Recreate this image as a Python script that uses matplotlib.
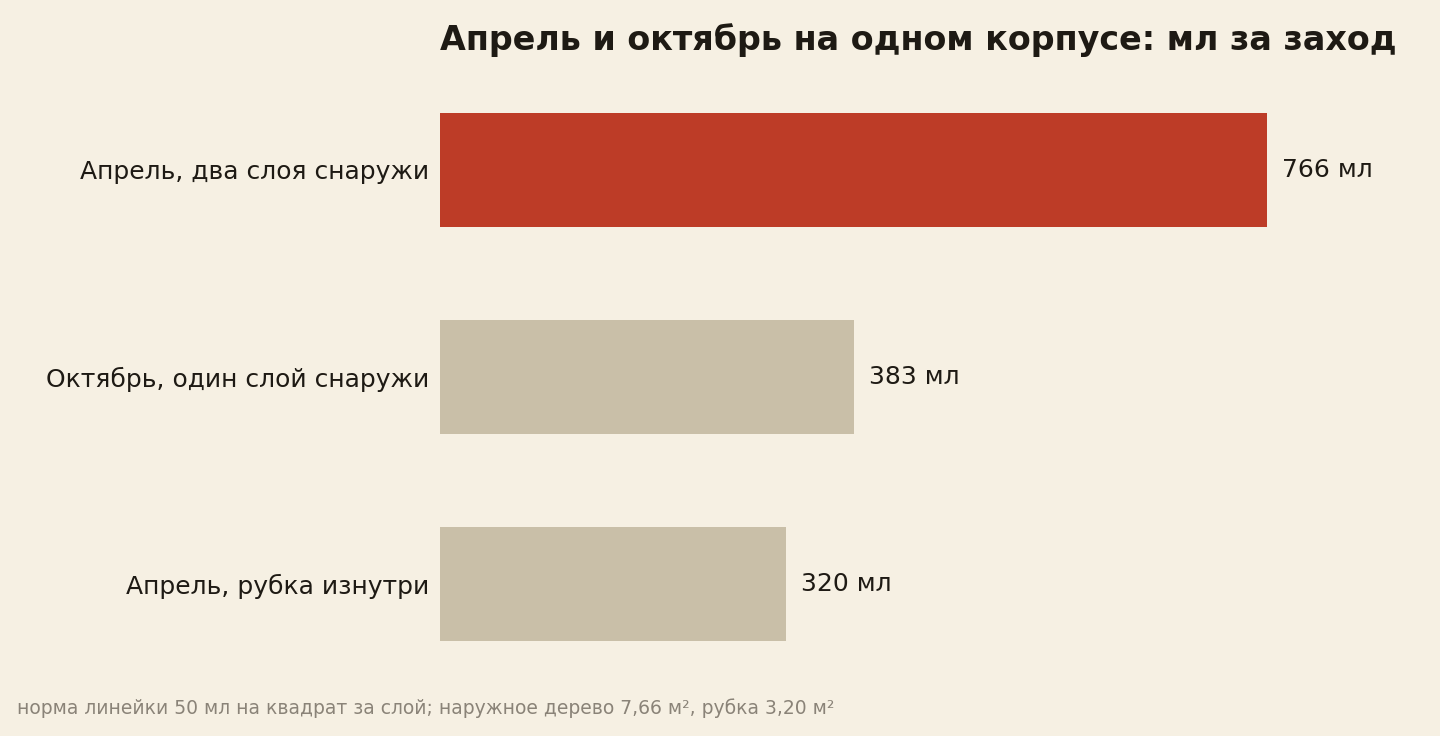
import matplotlib
matplotlib.use("Agg")
import matplotlib.pyplot as plt

categories = ["Апрель, два слоя снаружи", "Октябрь, один слой снаружи", "Апрель, рубка изнутри"]
values = [766, 383, 320]
colors = ["#BD3C27", "#C9BFA8", "#C9BFA8"]
bg = "#F6F0E3"
txt = "#1E1A14"

fig = plt.figure(figsize=(14.4, 7.36), dpi=100, facecolor=bg)
ax = fig.add_axes([440/1440, 1-687.5/736, 1000/1440, 621/736], facecolor=bg)
y = list(range(len(categories)))
ax.barh(y, values, height=0.55, color=colors)
ax.set_ylim(2.5, -0.5)
ax.set_xlim(0, 926)
for yi, v in zip(y, values):
    ax.text(v + 14, yi, f"{v} мл", va="center", ha="left", fontsize=18, color=txt)
ax.set_yticks(y)
ax.set_yticklabels(categories, fontsize=18, color=txt)
ax.tick_params(axis="y", length=0, pad=8)
ax.set_xticks([])
for s in ax.spines.values():
    s.set_visible(False)
fig.text(440/1440, 1-40/736, "Апрель и октябрь на одном корпусе: мл за заход",
         fontsize=24, fontweight="bold", color=txt, va="center", ha="left")
fig.text(17/1440, 1-708/736,
         "норма линейки 50 мл на квадрат за слой; наружное дерево 7,66 м², рубка 3,20 м²",
         fontsize=13.5, color="#8A8378", va="center", ha="left")
fig.savefig("out.png", dpi=100, facecolor=bg)
